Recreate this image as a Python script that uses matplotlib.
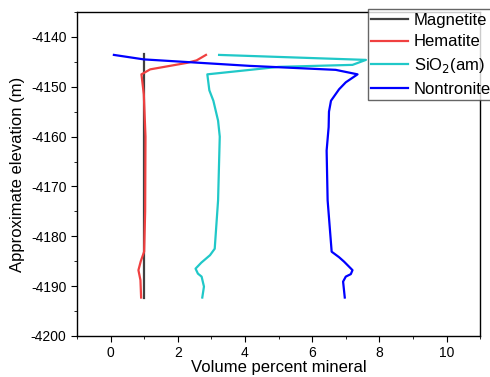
import matplotlib
matplotlib.use("Agg")
import matplotlib.pyplot as plt
from matplotlib.ticker import MultipleLocator

plt.rcParams['font.family'] = ['Liberation Sans', 'DejaVu Sans']
plt.rcParams['axes.unicode_minus'] = False

# =========================
# DATA
# =========================
mag_x = [1.0, 1.0]
mag_y = [-4143.5, -4192.3]

hem_x = [2.84, 2.56, 2.27, 1.18, 0.92, 0.99, 1.04, 1.03, 1.0, 0.9, 0.83, 0.89, 0.91]
hem_y = [-4143.6, -4144.7, -4145.2, -4146.5, -4147.5, -4151.5, -4160.0, -4175.0,
         -4183.1, -4185.0, -4186.8, -4188.8, -4192.3]

sio_x = [3.23, 7.6, 7.2, 5.0, 2.88, 2.94, 3.06, 3.2, 3.25, 3.2, 3.1, 2.96, 2.7,
         2.53, 2.6, 2.71, 2.78, 2.73]
sio_y = [-4143.6, -4144.6, -4145.6, -4146.0, -4147.5, -4150.7, -4152.8, -4156.8,
         -4160.0, -4172.8, -4182.5, -4183.8, -4185.3, -4186.5, -4187.5, -4188.1,
         -4190.1, -4192.3]

non_x = [0.1, 0.99, 4.14, 6.7, 7.35, 7.0, 6.8, 6.56, 6.5, 6.49, 6.43, 6.46, 6.58,
         6.8, 6.95, 7.2, 7.15, 7.0, 6.92, 6.97]
non_y = [-4143.6, -4144.5, -4145.8, -4146.6, -4147.5, -4149.1, -4150.5, -4152.8,
         -4155.0, -4158.1, -4162.8, -4172.8, -4183.1, -4184.2, -4185.1, -4186.8,
         -4187.6, -4188.1, -4189.1, -4192.3]

# =========================
# PLOT
# =========================
fig = plt.figure(figsize=(4.9, 3.77), dpi=100)
ax = fig.add_axes([0.157, 0.109, 0.823, 0.859])

ax.plot(mag_x, mag_y, color="#404040", lw=1.6, label="Magnetite")
ax.plot(hem_x, hem_y, color="#f04040", lw=1.6, label="Hematite")
ax.plot(sio_x, sio_y, color="#20c8c8", lw=1.6, label="SiO$_2$(am)")
ax.plot(non_x, non_y, color="#0000ff", lw=1.6, label="Nontronite")

ax.set_xlim(-1, 11)
ax.set_ylim(-4200, -4135)
ax.xaxis.set_major_locator(MultipleLocator(2))
ax.xaxis.set_minor_locator(MultipleLocator(1))
ax.yaxis.set_major_locator(MultipleLocator(10))
ax.yaxis.set_minor_locator(MultipleLocator(5))
ax.tick_params(which="both", direction="out", top=False, right=False, labelsize=10)
ax.tick_params(which="major", length=4)
ax.tick_params(which="minor", length=2.5)
for s in ax.spines.values():
    s.set_linewidth(1.0)

ax.set_xlabel("Volume percent mineral", fontsize=12, labelpad=0)
ax.set_ylabel("Approximate elevation (m)", fontsize=12, labelpad=4)

leg = fig.legend(loc="upper left", bbox_to_anchor=(0.751, 0.975), fontsize=12,
                 frameon=True, fancybox=False, edgecolor="#404040",
                 borderpad=0.2, labelspacing=0.4, handlelength=2.2,
                 handletextpad=0.35, borderaxespad=0)
leg.get_frame().set_linewidth(1.0)

plt.savefig("out.png", dpi=100)
plt.close()
